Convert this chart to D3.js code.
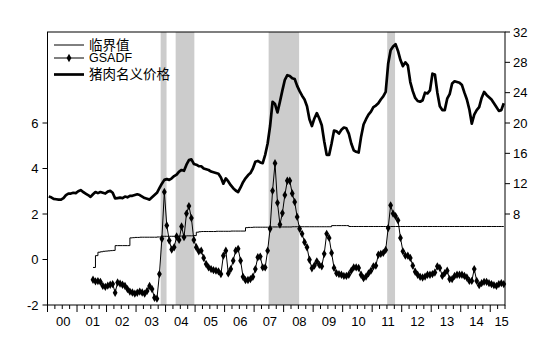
<!DOCTYPE html>
<html><head><meta charset="utf-8">
<script src="https://cdn.jsdelivr.net/npm/d3@7"></script>
<style>
body{margin:0;background:#fff;}
text{font-family:"Liberation Sans",Arial,sans-serif;}
.cjk{font-family:"Noto Sans CJK SC","Liberation Sans",sans-serif;}
</style></head>
<body><svg id="c" width="555" height="355"></svg>
<script>
// Monthly data, 2000-01 .. 2015-06 (month index 0..185)
const yearLabels = ["00","01","02","03","04","05","06","07","08","09","10","11","12","13","14","15"];
const priceStartMonth = 0;
const price = [
10.3,10.2,10.0,9.95,9.9,9.9,10.1,10.5,10.7,10.7,10.8,10.75,
11.0,11.15,10.9,10.7,10.5,10.25,10.6,10.9,10.75,10.9,10.8,10.7,
10.95,11.05,10.8,10.05,10.1,10.15,10.1,10.3,10.2,10.4,10.4,10.5,
10.6,10.5,10.3,10.1,10.0,9.9,10.2,10.5,10.8,11.4,12.0,12.5,
12.6,12.5,12.7,13.0,13.2,13.6,13.8,13.7,14.5,15.1,15.2,14.6,
14.5,14.3,14.3,14.0,13.9,13.8,13.6,13.5,13.4,13.3,12.8,12.0,
12.7,12.3,11.8,11.4,11.1,10.9,11.5,12.2,12.7,13.1,13.4,14.0,
14.9,15.0,14.8,14.7,15.8,17.3,19.6,22.8,22.5,21.4,22.8,24.3,
25.7,26.3,26.2,25.9,25.8,24.9,24.2,23.6,23.1,22.2,20.5,19.6,
20.6,21.3,20.6,19.7,17.6,15.8,15.8,17.3,19.0,18.9,18.6,19.1,
19.4,19.3,18.6,17.3,16.4,16.2,16.1,18.2,19.8,20.5,21.1,21.5,
22.1,22.3,22.6,23.1,23.5,24.1,27.8,29.6,30.1,30.4,29.5,28.3,
27.5,28.0,27.6,25.4,24.2,23.3,22.9,22.8,23.0,24.0,23.9,24.3,
26.5,26.4,24.0,22.2,21.7,21.7,23.2,23.8,25.2,25.5,25.4,25.3,
25.0,24.0,23.1,21.8,19.9,21.1,21.7,22.1,23.3,24.1,23.7,23.4,
23.1,22.6,22.1,21.6,21.7,22.6];
const gsadfStartMonth = 18;
const gsadf = [
-0.89,-0.96,-0.95,-0.98,-1.16,-1.2,
-1.15,-1.11,-1.08,-1.46,-1.01,-1.06,-1.11,-1.16,-1.30,-1.41,-1.45,-1.5,
-1.46,-1.41,-1.45,-1.5,-1.38,-1.16,-1.30,-1.68,-1.72,-0.64,0.91,2.97,
1.5,0.83,0.44,0.54,1.01,0.86,1.45,0.98,2.02,2.35,1.82,0.86,
0.54,0.36,0.39,0.07,-0.2,-0.35,-0.42,-0.47,-0.49,-0.52,-0.64,0.17,
0.39,-0.61,-0.42,-0.05,0.39,0.47,-0.05,-0.76,-0.91,-0.9,-0.86,-0.76,
-0.42,0.1,0.13,-0.35,-0.35,0.39,1.35,3.02,4.23,2.49,1.54,2.04,
2.83,3.46,3.46,2.9,2.53,1.87,1.35,1.13,0.76,0.54,-0.01,-0.39,
-0.27,-0.08,-0.24,-0.3,0.25,1.13,0.95,0.29,-0.37,-0.6,-0.64,-0.67,
-0.72,-0.72,-0.67,-0.49,-0.35,-0.35,-0.37,-0.67,-0.82,-0.75,-0.61,-0.49,
-0.3,-0.27,0.21,0.25,0.29,0.42,1.38,2.38,2.02,1.91,1.72,0.95,
0.36,0.17,0.17,0.07,-0.27,-0.54,-0.67,-0.76,-0.79,-0.75,-0.67,-0.67,
-0.64,-0.57,-0.3,-0.37,-0.72,-0.6,-0.49,-0.86,-0.86,-0.72,-0.67,-0.67,
-0.67,-0.72,-0.79,-0.94,-0.94,-0.42,-0.94,-1.13,-1.04,-0.98,-0.98,-1.04,
-1.08,-1.13,-1.16,-1.08,-1.04,-1.08];
const cvStartMonth = 18;
const critical = [
-0.35,0.17,0.32,0.34,0.36,0.37,
0.38,0.39,0.40,0.61,0.61,0.61,0.61,0.61,0.61,0.95,0.96,0.97,
0.97,0.98,0.98,0.98,0.98,0.98,0.98,0.98,0.99,0.99,1.02,1.02,
1.02,1.02,1.02,1.02,1.02,1.03,1.03,1.03,1.04,1.04,1.04,1.05,
1.2,1.22,1.23,1.23,1.23,1.23,1.23,1.23,1.24,1.24,1.24,1.24,
1.24,1.24,1.25,1.25,1.25,1.25,1.25,1.25,1.40,1.41,1.41,1.42,
1.42,1.42,1.42,1.42,1.42,1.42,1.43,1.43,1.43,1.43,1.43,1.43,
1.43,1.43,1.43,1.44,1.44,1.44,1.44,1.44,1.44,1.44,1.44,1.44,
1.44,1.44,1.44,1.44,1.44,1.44,1.44,1.49,1.49,1.49,1.49,1.49,
1.49,1.49,1.45,1.45,1.45,1.45,1.45,1.45,1.45,1.45,1.45,1.45,
1.45,1.45,1.45,1.45,1.45,1.45,1.45,1.45,1.45,1.45,1.45,1.45,
1.45,1.45,1.45,1.45,1.45,1.45,1.45,1.45,1.45,1.45,1.45,1.45,
1.45,1.45,1.45,1.45,1.45,1.45,1.45,1.45,1.45,1.45,1.45,1.45,
1.45,1.45,1.45,1.45,1.45,1.45,1.45,1.45,1.45,1.45,1.45,1.45,
1.45,1.45,1.45,1.45,1.45,1.45];
// bubble periods (month index, start/end)
const bandStart = [45.5, 51.6, 89.4, 137.6];
const bandEnd   = [47.9, 59.2, 101.8, 140.8];
const leftTicks = [-2,0,2,4,6];
const rightTicks = [8,12,16,20,24,28,32];
const legendLabels = ["临界值","GSADF","猪肉名义价格"];

const svg = d3.select("#c");
const L=47.5, R=505, T=32, B=305;
const x = d3.scaleLinear().domain([-0.5,185.5]).range([L,R]);
const yL = d3.scaleLinear().domain([-2,10]).range([B,T]);
const yR = d3.scaleLinear().domain([-4,32]).range([B,T]);

// bands
svg.append("g").selectAll("rect").data(bandStart).join("rect")
  .attr("x",(d)=>x(d)).attr("width",(d,i)=>x(bandEnd[i])-x(d))
  .attr("y",T).attr("height",B-T).attr("fill","#cccccc");

const pricePts = price.map((v,i)=>[priceStartMonth+i,v]);
const gPts = gsadf.map((v,i)=>[gsadfStartMonth+i,v]);
const cPts = critical.map((v,i)=>[cvStartMonth+i,v]);

svg.append("path").datum(cPts)
  .attr("d",d3.line().x(d=>x(d[0])).y(d=>yL(d[1])).curve(d3.curveStepAfter))
  .attr("fill","none").attr("stroke","#000").attr("stroke-width",1);
svg.append("path").datum(gPts)
  .attr("d",d3.line().x(d=>x(d[0])).y(d=>yL(d[1])))
  .attr("fill","none").attr("stroke","#000").attr("stroke-width",1);
svg.append("g").selectAll("path").data(gPts).join("path")
  .attr("transform",d=>`translate(${x(d[0])},${yL(d[1])})`)
  .attr("d",d3.symbol(d3.symbolDiamond,20)).attr("fill","#000");
svg.append("path").datum(pricePts)
  .attr("d",d3.line().x(d=>x(d[0])).y(d=>yR(d[1])))
  .attr("fill","none").attr("stroke","#000").attr("stroke-width",2.7).attr("stroke-linejoin","round");

// frame
svg.append("rect").attr("x",L).attr("y",T).attr("width",R-L).attr("height",B-T)
  .attr("fill","none").attr("stroke","#000").attr("stroke-width",1);

// left axis
const ax = svg.append("g");
ax.selectAll("line.l").data(leftTicks).join("line")
  .attr("x1",L-5).attr("x2",L).attr("y1",d=>yL(d)).attr("y2",d=>yL(d)).attr("stroke","#000");
ax.selectAll("text.l").data(leftTicks).join("text")
  .attr("x",L-9).attr("y",d=>yL(d)).attr("dy","0.35em").attr("text-anchor","end")
  .attr("font-size",13).text(d=>d);
// right axis
ax.selectAll("line.r").data(rightTicks).join("line")
  .attr("x1",R).attr("x2",R+5).attr("y1",d=>yR(d)).attr("y2",d=>yR(d)).attr("stroke","#000");
ax.selectAll("text.r").data(rightTicks).join("text")
  .attr("x",R+8).attr("y",d=>yR(d)).attr("dy","0.35em").attr("text-anchor","start")
  .attr("font-size",13).text(d=>d);
// bottom ticks
const qt = d3.range(0,187,3);
ax.selectAll("line.b").data(qt).join("line")
  .attr("x1",d=>x(d-0.5)).attr("x2",d=>x(d-0.5))
  .attr("y1",B).attr("y2",d=>B+(d%12===0?7:4)).attr("stroke","#000");
ax.selectAll("text.b").data(yearLabels).join("text")
  .attr("x",(d,i)=> i<15 ? x(i*12+5.5)+1 : x(182.5)+4)
  .attr("y",326).attr("text-anchor","middle").attr("font-size",13).text(d=>d);

// legend
const lg = svg.append("g");
const ly = [45,58,74.5];
lg.append("line").attr("x1",54).attr("x2",84).attr("y1",ly[0]).attr("y2",ly[0]).attr("stroke","#000");
lg.append("line").attr("x1",54).attr("x2",84).attr("y1",ly[1]).attr("y2",ly[1]).attr("stroke","#000");
lg.append("path").attr("transform",`translate(69,${ly[1]})`).attr("d",d3.symbol(d3.symbolDiamond,20)).attr("fill","#000");
lg.append("line").attr("x1",54).attr("x2",84).attr("y1",ly[2]).attr("y2",ly[2]).attr("stroke","#000").attr("stroke-width",2.7);
lg.selectAll("text").data(legendLabels).join("text")
  .attr("class",(d,i)=>i===1?"":"cjk")
  .attr("x",89).attr("y",(d,i)=>ly[i]).attr("dy","0.35em")
  .attr("font-size",(d,i)=>i===1?12.5:13.5).text(d=>d);
</script></body></html>
